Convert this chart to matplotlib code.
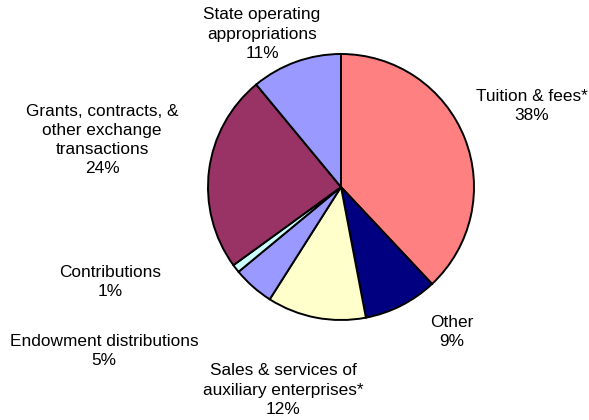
import matplotlib
matplotlib.use('Agg')
import matplotlib.pyplot as plt

plt.rcParams['font.family'] = ['Liberation Sans', 'DejaVu Sans']

# Revenue shares (%), clockwise from 12 o'clock
categories = ['Tuition & fees*', 'Other', 'Sales & services of\nauxiliary enterprises*',
              'Endowment distributions', 'Contributions',
              'Grants, contracts, &\nother exchange\ntransactions',
              'State operating\nappropriations']
shares = [38, 9, 12, 5, 1, 24, 11]
colors = ['#FF8080', '#000080', '#FFFFCC', '#9999FF', '#CCFFFF', '#993366', '#9999FF']

# label centres in pixel coords (x, y from top)
label_pos = [(532, 106), (452, 332), (283, 390), (104, 351), (110, 282), (102, 140), (262, 34)]

W, H = 589, 420
fig = plt.figure(figsize=(W / 100, H / 100), dpi=100)
ax = fig.add_axes([0, 0, 1, 1])

ax.pie(shares, colors=colors, startangle=90, counterclock=False,
       center=(341, H - 187), radius=133,
       wedgeprops=dict(edgecolor='black', linewidth=1.4))
ax.set_xlim(0, W)
ax.set_ylim(0, H)
ax.set_aspect('auto')
ax.axis('off')

for cat, val, (x, y) in zip(categories, shares, label_pos):
    ax.text(x, H - y, f'{cat}\n{val}%', ha='center', va='center',
            fontsize=12.4, linespacing=1.35, color='black')

fig.savefig('out.png', dpi=100)
